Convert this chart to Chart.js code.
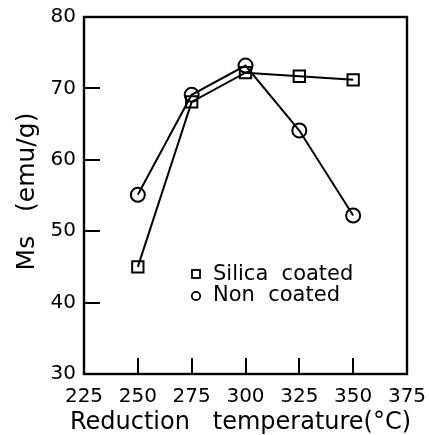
<!DOCTYPE html>
<html>
<head>
<meta charset="utf-8">
<script src="https://cdn.jsdelivr.net/npm/chart.js@4"></script>
<style>
  html, body { margin: 0; padding: 0; background: #fff; }
  #wrap { position: relative; width: 429px; height: 435px; }
</style>
</head>
<body>
<div id="wrap"><canvas id="chart"></canvas></div>
<script>
// data
const temps        = [250, 275, 300, 325, 350]
const silicaCoated = [45, 68.1, 72.2, 71.7, 71.2]
const nonCoated    = [55.1, 69.1, 73.2, 64.1, 52.2]
const xTicks       = [225, 250, 275, 300, 325, 350, 375]
const yTicks       = [30, 40, 50, 60, 70, 80]
const xTitle       = 'Reduction   temperature(°C)'

const FONT = "'DejaVu Sans', sans-serif"

// frame + inward ticks + x title + legend
const framePlugin = {
  id: 'frame',
  afterDatasetsDraw(chart) {
    const { ctx, chartArea: a, scales } = chart
    ctx.save()
    ctx.strokeStyle = '#000'
    ctx.lineWidth = 2.4
    ctx.strokeRect(a.left, a.top, a.right - a.left, a.bottom - a.top)
    ctx.lineWidth = 2
    ctx.beginPath()
    for (const v of yTicks.slice(1, -1)) {
      const y = Math.round(scales.y.getPixelForValue(v))
      ctx.moveTo(a.left, y); ctx.lineTo(a.left + 16, y)
    }
    for (const v of xTicks.slice(1, -1)) {
      const x = Math.round(scales.x.getPixelForValue(v))
      ctx.moveTo(x, a.bottom); ctx.lineTo(x, a.bottom - 16)
    }
    ctx.stroke()

    ctx.fillStyle = '#000'
    ctx.textBaseline = 'middle'

    // x title (no width clamp)
    ctx.font = `24px ${FONT}`
    ctx.textAlign = 'center'
    ctx.fillText(xTitle, (a.left + a.right) / 2 - 5, 423)

    // legend
    ctx.textAlign = 'left'
    ctx.lineWidth = 1.8
    ctx.font = `21px ${FONT}`
    const lx = a.left + 112
    ctx.strokeRect(lx - 4, 270, 8, 8)
    ctx.beginPath(); ctx.arc(lx, 296, 4.2, 0, Math.PI * 2); ctx.stroke()
    ctx.fillText('Silica  coated', lx + 17, 275)
    ctx.fillText('Non  coated', lx + 17, 296)
    ctx.restore()
  }
}

new Chart(document.getElementById('chart'), {
  type: 'line',
  data: {
    datasets: [
      {
        label: 'Silica coated',
        data: temps.map((t, i) => ({ x: t, y: silicaCoated[i] })),
        borderColor: '#000', borderWidth: 2,
        pointStyle: 'rect', pointRadius: 8,
        pointBackgroundColor: 'rgba(255,255,255,0)', pointBorderColor: '#000', pointBorderWidth: 2,
        tension: 0,
      },
      {
        label: 'Non coated',
        data: temps.map((t, i) => ({ x: t, y: nonCoated[i] })),
        borderColor: '#000', borderWidth: 2,
        pointStyle: 'circle', pointRadius: 7,
        pointBackgroundColor: 'rgba(255,255,255,0)', pointBorderColor: '#000', pointBorderWidth: 2,
        tension: 0,
      },
    ]
  },
  options: {
    responsive: true, maintainAspectRatio: false, animation: false,
    layout: { padding: { top: 17, right: 22, left: 0, bottom: 0 } },
    plugins: { legend: { display: false }, tooltip: { enabled: false } },
    scales: {
      x: {
        type: 'linear', min: 225, max: 375,
        afterBuildTicks: s => { s.ticks = xTicks.map(v => ({ value: v })) },
        afterFit: s => { s.height = 61; s.paddingLeft = 0; s.paddingRight = 0 },
        ticks: { color: '#000', padding: 3, maxRotation: 0, font: { family: FONT, size: 20 } },
        grid: { display: false },
        border: { display: false },
        title: { display: false }
      },
      y: {
        min: 30, max: 80,
        afterBuildTicks: s => { s.ticks = yTicks.map(v => ({ value: v })) },
        afterFit: s => { s.width = 84; s.paddingTop = 0; s.paddingBottom = 0 },
        ticks: { color: '#000', padding: 0, font: { family: FONT, size: 20 } },
        grid: { display: false },
        border: { display: false },
        title: {
          display: true, text: ' Ms   (emu/g)', color: '#000',
          font: { family: FONT, size: 25, lineHeight: 1 }, padding: { top: 15, bottom: 0 }
        }
      }
    }
  },
  plugins: [framePlugin]
})
</script>
</body>
</html>
